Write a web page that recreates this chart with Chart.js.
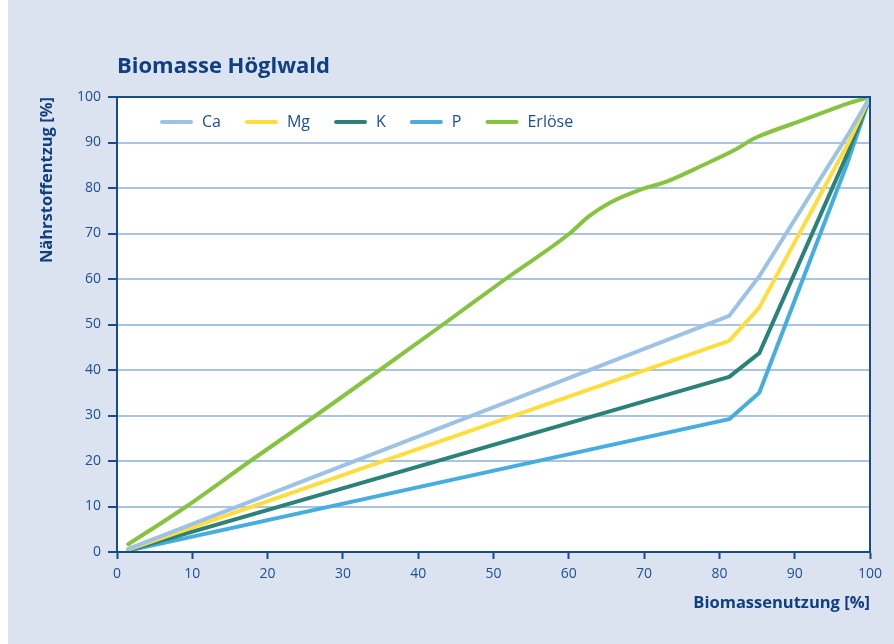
<!DOCTYPE html>
<html>
<head>
<meta charset="utf-8">
<script src="https://cdn.jsdelivr.net/npm/chart.js@4"></script>
<style>
  html, body { margin: 0; padding: 0; background: #ffffff; }
  #chart { display: block; margin-left: 8px; background: #dce3f0; }
</style>
</head>
<body>
<canvas id="chart" width="886" height="644"></canvas>
<script>
// values (Biomassenutzung in %, Nährstoffentzug in %)
var nutrientX = [1.5, 81.3, 85.3, 97, 100];
var caValues = [0.7, 51.9, 60.6, 91.5, 100];
var mgValues = [0.5, 46.4, 53.7, 89.5, 100];
var kValues = [0.4, 38.5, 43.7, 87.5, 100];
var pValues = [0.3, 29.2, 35.0, 85.5, 100];

var erloeseX = [1.5, 9.2, 17.7, 26.4, 34.9, 43.3, 51.6, 60.1, 62.7, 65.4, 69.8, 72.5, 77.8, 82.2, 84.4, 85.3, 90.7, 95.6, 97.5, 100];
var erloeseValues = [1.7, 10, 20, 30, 40, 50, 60, 70, 73.8, 76.7, 79.8, 81.1, 85, 88.5, 90.7, 91.4, 94.7, 97.7, 98.8, 100];

var seriesNames = ['Ca', 'Mg', 'K', 'P', 'Erlöse'];
var seriesColors = ['#9cc3e5', '#ffdd3c', '#2a8279', '#45aedf', '#86c440'];

var darkBlue = '#164b8c';
var textBlue = '#1b4f8f';
var gridBlue = '#aac3e0';

function pairs(xs, ys) {
    return xs.map(function (x, i) { return {x: x, y: ys[i]}; });
}

var seriesData = [
    pairs(nutrientX, caValues),
    pairs(nutrientX, mgValues),
    pairs(nutrientX, kValues),
    pairs(nutrientX, pValues),
    pairs(erloeseX, erloeseValues)
];

var datasets = seriesNames.map(function (name, i) {
    return {
        label: name,
        data: seriesData[i],
        borderColor: seriesColors[i],
        backgroundColor: seriesColors[i],
        borderWidth: 4,
        pointRadius: 0,
        fill: false,
        tension: name === 'Erlöse' ? 0.3 : 0,
        cubicInterpolationMode: name === 'Erlöse' ? 'monotone' : 'default',
        borderCapStyle: 'round',
        borderJoinStyle: 'round'
    };
});

// white plot area + dark frame around it
var frame = {
    id: 'frame',
    beforeDraw: function (chart) {
        var a = chart.chartArea, c = chart.ctx;
        c.save();
        c.fillStyle = '#ffffff';
        c.fillRect(a.left, a.top, a.right - a.left, a.bottom - a.top);
        c.restore();
    },
    afterDraw: function (chart) {
        var a = chart.chartArea, c = chart.ctx;
        c.save();
        c.strokeStyle = darkBlue;
        c.lineWidth = 2;
        c.strokeRect(a.left, a.top, a.right - a.left, a.bottom - a.top);
        c.restore();
    }
};

// legend row inside the top of the plot area
var innerLegend = {
    id: 'innerLegend',
    beforeDatasetsDraw: function (chart) {
        var a = chart.chartArea, c = chart.ctx;
        var x = a.left + 43, y = a.top + 25;
        c.save();
        c.font = '16px "Open Sans"';
        c.textBaseline = 'middle';
        c.lineCap = 'round';
        c.lineWidth = 4;
        chart.data.datasets.forEach(function (ds) {
            c.strokeStyle = ds.borderColor;
            c.beginPath();
            c.moveTo(x + 2, y);
            c.lineTo(x + 31, y);
            c.stroke();
            c.fillStyle = textBlue;
            c.fillText(ds.label, x + 42, y);
            x += 42 + c.measureText(ds.label).width + 24;
        });
        c.restore();
    }
};

var ctx = document.getElementById('chart').getContext('2d');
var myChart = new Chart(ctx, {
    type: 'line',
    data: { datasets: datasets },
    options: {
        responsive: false,
        animation: false,
        layout: { padding: { left: 0, right: 24, top: 0, bottom: 0 } },
        plugins: {
            title: {
                display: true,
                text: 'Biomasse Höglwald',
                align: 'start',
                fullSize: false,
                color: '#0f3f80',
                font: { family: 'Open Sans', size: 22, weight: 'bold' },
                padding: { top: 54, bottom: 16.6 }
            },
            legend: { display: false },
            tooltip: { enabled: false }
        },
        scales: {
            x: {
                type: 'linear',
                min: 0,
                max: 100,
                ticks: {
                    stepSize: 10,
                    color: textBlue,
                    font: { family: 'Open Sans', size: 14 },
                    padding: 7,
                    maxRotation: 0
                },
                grid: {
                    drawOnChartArea: false,
                    tickColor: darkBlue,
                    tickLength: 7,
                    tickWidth: 2
                },
                border: { color: darkBlue, width: 2 },
                title: {
                    display: true,
                    text: 'Biomassenutzung [%]',
                    align: 'end',
                    color: '#0f3f80',
                    font: { family: 'Open Sans', size: 16.5, weight: 'bold' },
                    padding: { top: 4, bottom: 31 }
                },
                afterFit: function (scale) { scale.height = 92; }
            },
            y: {
                min: 0,
                max: 100,
                ticks: {
                    stepSize: 10,
                    color: textBlue,
                    font: { family: 'Open Sans', size: 14 },
                    padding: 7
                },
                grid: {
                    color: gridBlue,
                    lineWidth: 2,
                    tickColor: darkBlue,
                    tickLength: 9,
                    tickWidth: 2
                },
                border: { color: darkBlue, width: 2 },
                title: {
                    display: true,
                    text: 'Nährstoffentzug [%]',
                    align: 'end',
                    color: '#0f3f80',
                    font: { family: 'Open Sans', size: 16.5, weight: 'bold' },
                    padding: { top: 29, bottom: 0 }
                },
                afterFit: function (scale) { scale.width = 109; }
            }
        }
    },
    plugins: [frame, innerLegend]
});
</script>
</body>
</html>
